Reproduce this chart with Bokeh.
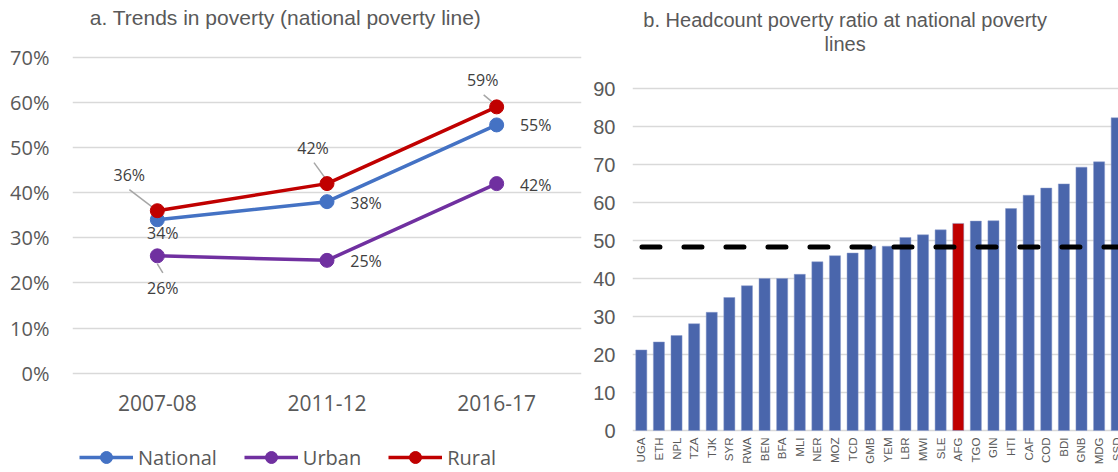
import math
from bokeh.plotting import figure
from bokeh.layouts import row
from bokeh.models import (Range1d, FixedTicker, NumeralTickFormatter, Label,
                          Legend, LegendItem, ColumnDataSource)
from bokeh.core.properties import value
from bokeh.embed import file_html
from bokeh.resources import INLINE

# ---------------- data ----------------
periods = ["2007-08", "2011-12", "2016-17"]
national = [0.34, 0.38, 0.55]
urban = [0.26, 0.25, 0.42]
rural = [0.36, 0.42, 0.59]
left_ticks = [0.0, 0.1, 0.2, 0.3, 0.4, 0.5, 0.6, 0.7]

countries = ["UGA", "ETH", "NPL", "TZA", "TJK", "SYR", "RWA", "BEN", "BFA", "MLI",
             "NER", "MOZ", "TCD", "GMB", "YEM", "LBR", "MWI", "SLE", "AFG", "TGO",
             "GIN", "HTI", "CAF", "COD", "BDI", "GNB", "MDG", "SSD"]
ratios = [21.2, 23.3, 25.0, 28.1, 31.1, 35.0, 38.1, 40.0, 40.0, 41.1,
          44.4, 46.0, 46.7, 48.5, 48.5, 50.8, 51.5, 52.8, 54.5, 55.1,
          55.2, 58.4, 61.9, 63.8, 64.9, 69.3, 70.7, 82.3]
highlight = "AFG"
average_line = 48.3
right_ticks = [0, 10, 20, 30, 40, 50, 60, 70, 80, 90]

title_a = "a. Trends in poverty (national poverty line)"
title_b1 = "b. Headcount poverty ratio at national poverty"
title_b2 = "lines"

# ---------------- styles / layout ----------------
GRAY_TXT = "#595959"
LBL_TXT = "#404040"
GRID = "#d9d9d9"
C_NAT, C_URB, C_RUR = "#4472C4", "#7030A0", "#C00000"
BAR_C, BAR_HI = "#4A66AC", "#C00000"

H = 472
W1, W2 = 590, 528

# left chart geometry (pixel coords, frame spans full height)
L_LEFT, L_RIGHT = 72, 9
L_PX = 451.4                 # px per 1.0 (100%)
L_ZERO = 372.7               # y of 0%
L_BAND = (W1 - L_LEFT - L_RIGHT) / 3.0

def lx_data(fx):
    return (fx - L_LEFT) / L_BAND - 0.5

def ly_data(fy):
    return (L_ZERO - fy) / L_PX

p1 = figure(width=W1, height=H, output_backend="svg", toolbar_location=None,
            x_range=Range1d(-0.5, 2.5),
            y_range=Range1d(ly_data(H), ly_data(0)),
            x_axis_location=None,
            min_border_left=L_LEFT, min_border_right=L_RIGHT,
            min_border_top=0, min_border_bottom=0)
p1.outline_line_color = None
p1.xgrid.grid_line_color = None
p1.ygrid.grid_line_color = GRID
p1.ygrid.grid_line_width = 1.5
p1.yaxis.ticker = FixedTicker(ticks=left_ticks)
p1.yaxis.formatter = NumeralTickFormatter(format="0%")
p1.yaxis.axis_line_color = None
p1.yaxis.major_tick_line_color = None
p1.yaxis.minor_tick_line_color = None
p1.yaxis.major_tick_out = 0
p1.yaxis.major_tick_in = 0
p1.yaxis.minor_tick_out = 0
p1.yaxis.major_label_text_color = GRAY_TXT
p1.yaxis.major_label_text_font = "Open Sans"
p1.yaxis.major_label_text_font_size = "20px"
p1.yaxis.major_label_standoff = 23

xs = list(range(len(periods)))

# category labels of the left chart
p1.text(x=xs, y=[ly_data(402)] * len(xs), text=periods,
        text_align="center", text_baseline="middle",
        text_font=value("Open Sans"), text_font_size="21px", text_color=GRAY_TXT)

# leader lines (pixel offsets, styling)
leaders = {
    "rural": [(-28, -21, -3, -2), (-13, -21, 0, -3), (-13, -12, -1, -2)],
    "urban": [(0, 8, 5.5, 17), None, None],
}
label_offsets = {
    "national": [(5.5, 13), (39, 1), (39, 0.5)],
    "urban": [(5.5, 32), (39, 1), (39, 1)],
    "rural": [(-28, -36), (-14, -36), (-14, -27)],
}
series = [("national", "National", national, C_NAT),
          ("urban", "Urban", urban, C_URB),
          ("rural", "Rural", rural, C_RUR)]

for key, _, vals, _c in series:
    if key in leaders:
        x0, y0, x1, y1 = [], [], [], []
        for i, ld in enumerate(leaders[key]):
            if ld is None:
                continue
            x0.append(xs[i] + ld[0] / L_BAND)
            y0.append(vals[i] - ld[1] / L_PX)
            x1.append(xs[i] + ld[2] / L_BAND)
            y1.append(vals[i] - ld[3] / L_PX)
        p1.segment(x0=x0, y0=y0, x1=x1, y1=y1, line_color="#a6a6a6", line_width=1.5)

items = []
for key, name, vals, col in series:
    lr = p1.line(xs, vals, line_color=col, line_width=3.5)
    sr = p1.scatter(xs, vals, size=14, fill_color=col, line_color=col)
    items.append(LegendItem(label=name, renderers=[lr, sr]))

for key, name, vals, col in series:
    offs = label_offsets[key]
    src = ColumnDataSource(dict(x=xs, y=vals,
                                t=["%d%%" % round(v * 100) for v in vals],
                                dx=[o[0] for o in offs], dy=[o[1] for o in offs]))
    p1.text(x="x", y="y", text="t", x_offset="dx", y_offset="dy", source=src,
            text_align="center", text_baseline="middle",
            text_font=value("Open Sans"), text_font_size="16px", text_color=LBL_TXT)

legend = Legend(items=items, orientation="horizontal", location=(7, 0),
                glyph_width=54, glyph_height=30, label_standoff=5, spacing=27,
                padding=0, margin=0, border_line_color=None,
                background_fill_alpha=0, label_text_font="Open Sans",
                label_text_font_size="20px", label_text_color=GRAY_TXT)
p1.add_layout(legend)

p1.add_layout(Label(x=lx_data(285), y=ly_data(17), text=title_a,
                    text_align="center", text_baseline="middle",
                    text_font="Liberation Sans", text_font_size="21px",
                    text_color=GRAY_TXT))

# ---------------- right chart ----------------
R_LEFT, R_RIGHT = 40, 0
R_BAND = 17.68
R_PX = 3.8
R_ZERO = 430                 # y of value 0
r_frame_w = W2 - R_LEFT - R_RIGHT
r_x_end = -0.5 + r_frame_w / R_BAND

def rx_data(fx):
    return (fx - R_LEFT) / R_BAND - 0.5

def ry_data(fy):
    return (R_ZERO - fy) / R_PX

p2 = figure(width=W2, height=H, output_backend="svg", toolbar_location=None,
            x_range=Range1d(-0.5, r_x_end),
            y_range=Range1d(ry_data(H), ry_data(0)),
            x_axis_location=None,
            min_border_left=R_LEFT, min_border_right=R_RIGHT,
            min_border_top=0, min_border_bottom=0)
p2.outline_line_color = None
p2.xgrid.grid_line_color = None
p2.ygrid.grid_line_color = GRID
p2.ygrid.grid_line_width = 1.5
p2.yaxis.ticker = FixedTicker(ticks=right_ticks)
p2.yaxis.axis_line_color = None
p2.yaxis.major_tick_line_color = None
p2.yaxis.minor_tick_line_color = None
p2.yaxis.major_tick_out = 0
p2.yaxis.major_tick_in = 0
p2.yaxis.minor_tick_out = 0
p2.yaxis.major_label_text_color = GRAY_TXT
p2.yaxis.major_label_text_font = "Liberation Sans"
p2.yaxis.major_label_text_font_size = "20px"
p2.yaxis.major_label_standoff = 17

cx = list(range(len(countries)))
bsrc = ColumnDataSource(dict(x=cx, top=ratios,
                             c=[BAR_HI if c == highlight else BAR_C for c in countries]))
p2.vbar(x="x", top="top", width=0.63, bottom=0, source=bsrc,
        fill_color="c", line_color="#8b9bcc", line_width=0.8, line_alpha=0.6)

# country labels (vertical, reading upward)
p2.text(x=cx, y=[ry_data(437)] * len(cx), text=countries, angle=math.pi / 2,
        text_align="right", text_baseline="middle",
        text_font=value("Liberation Sans"), text_font_size="11.5px",
        text_color=GRAY_TXT)

# national poverty line reference (dashed), dash phase starts at first bar
dash_start = rx_data(49.5)
p2.line(x=[dash_start, r_x_end + 1], y=[average_line, average_line],
        line_color="black", line_width=5, line_dash="18 24", line_cap="round")

p2.add_layout(Label(x=rx_data(253.5), y=ry_data(19), text=title_b1,
                    text_align="center", text_baseline="middle",
                    text_font="Liberation Sans", text_font_size="20px",
                    text_color=GRAY_TXT))
p2.add_layout(Label(x=rx_data(253.5), y=ry_data(43), text=title_b2,
                    text_align="center", text_baseline="middle",
                    text_font="Liberation Sans", text_font_size="20px",
                    text_color=GRAY_TXT))

layout = row(p1, p2)
open("out.html", "w").write(file_html(layout, INLINE))
